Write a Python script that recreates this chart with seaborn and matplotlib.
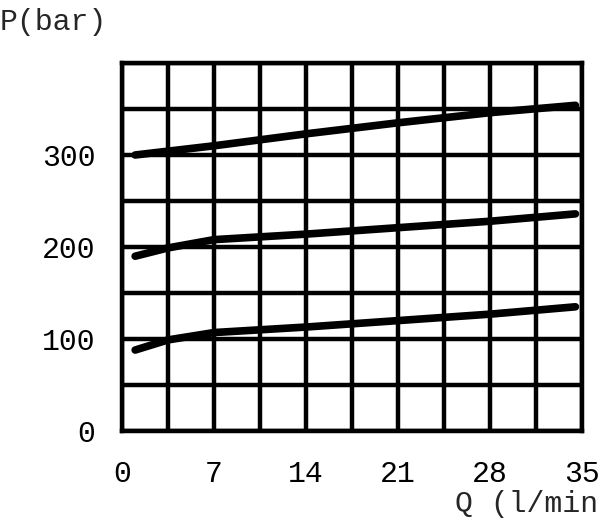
import numpy as np
import pandas as pd
import matplotlib
matplotlib.use("Agg")
import matplotlib.pyplot as plt
import seaborn as sns

# curve data (Q in l/min, P in bar)
q_high = [1, 7, 14, 21, 28, 34.5]
p_high = [300, 310, 323, 335, 346, 354]

q_mid = [1, 3.5, 7, 14, 21, 28, 34.5]
p_mid = [190, 199, 208, 214, 221, 228, 236]

q_low = [1, 3.5, 7, 14, 21, 28, 34.5]
p_low = [88, 99, 107, 113, 120, 127, 135]

x_ticks = [0, 7, 14, 21, 28, 35]
y_ticks = [0, 100, 200, 300]

sns.set_style("white")
plt.rcParams['font.family'] = ['Liberation Mono', 'DejaVu Sans Mono']

df = pd.concat([
    pd.DataFrame({"Q": q_high, "P": p_high, "curve": "high"}),
    pd.DataFrame({"Q": q_mid, "P": p_mid, "curve": "mid"}),
    pd.DataFrame({"Q": q_low, "P": p_low, "curve": "low"}),
])

fig = plt.figure(figsize=(6, 5.21), dpi=100)
ax = fig.add_axes([122 / 600, 1 - 431 / 521, 460 / 600, 368 / 521])

sns.lineplot(data=df, x="Q", y="P", units="curve", estimator=None,
             color="black", linewidth=5.5, ax=ax, legend=False, zorder=3)

# grid every 3.5 l/min and 50 bar, labels only on some
grid_x = np.arange(0, 35.1, 3.5)
grid_y = np.arange(0, 401, 50)
ax.set_xlim(0, 35)
ax.set_ylim(0, 400)
ax.set_xticks(grid_x)
ax.set_yticks(grid_y)
ax.grid(True, color="black", linewidth=3.2)
ax.set_xticklabels([str(int(v)) if v in x_ticks else "" for v in grid_x])
ax.set_yticklabels([str(int(v)) if v in y_ticks else "" for v in grid_y])
ax.tick_params(length=0, labelsize=21.5, colors="black")
ax.tick_params(axis="x", pad=21)
ax.tick_params(axis="y", pad=19)
for s in ax.spines.values():
    s.set_visible(True)
    s.set_color("black")
    s.set_linewidth(3.2)
ax.set_xlabel("")
ax.set_ylabel("")

fig.text(0.0, 1 - 22 / 521, "P(bar)", fontsize=21.5, va="center", ha="left")
fig.text(455 / 600, 1 - 504 / 521, "Q (l/min)", fontsize=21.5, va="center", ha="left")

fig.savefig("out.png", dpi=100, facecolor="white")
